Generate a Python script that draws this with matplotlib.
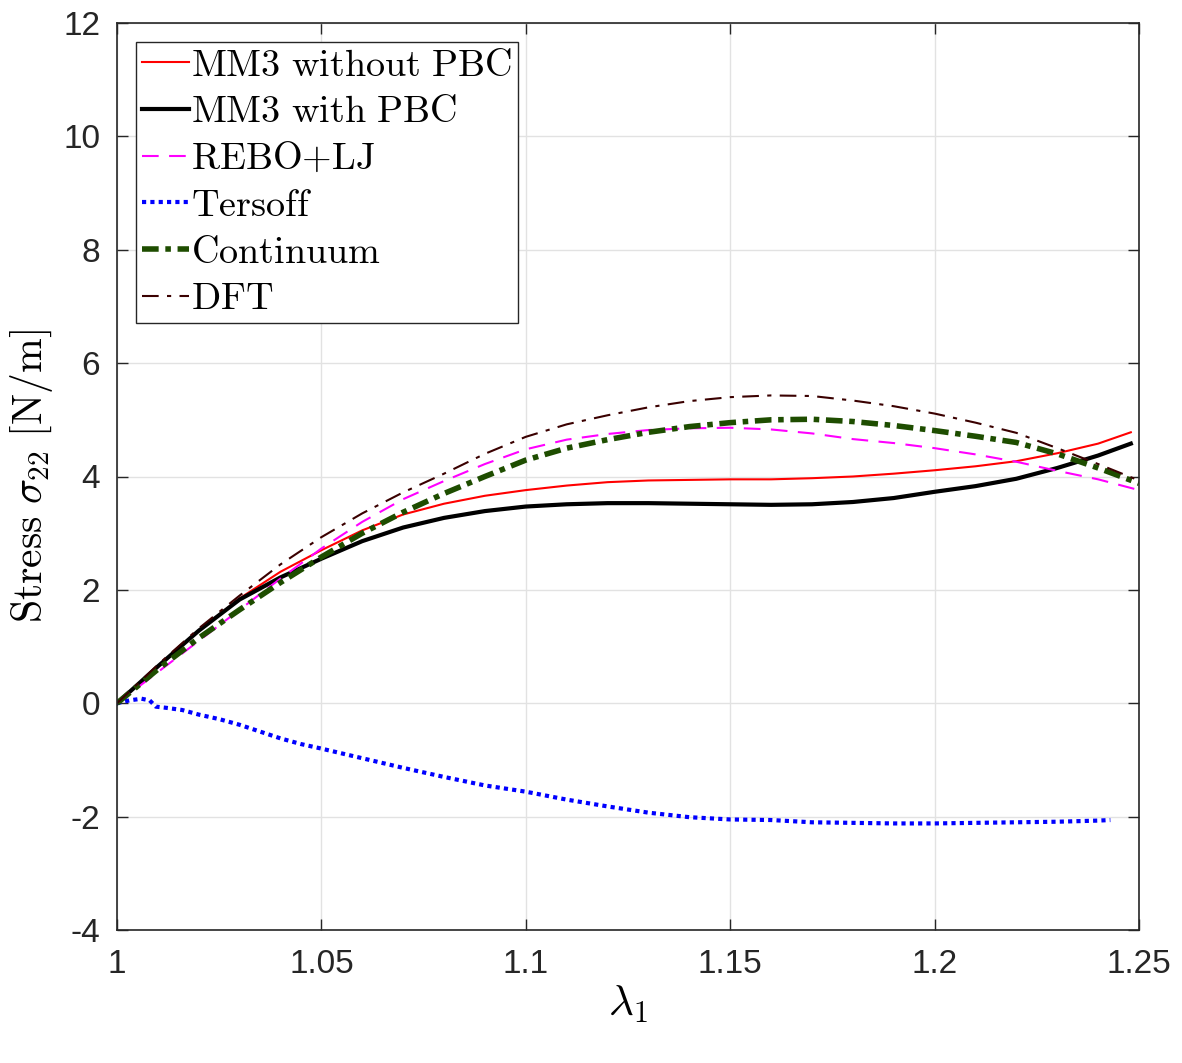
import matplotlib
matplotlib.use("Agg")
import matplotlib.pyplot as plt

plt.rcParams['mathtext.fontset'] = 'cm'
plt.rcParams['font.family'] = ['Liberation Sans', 'DejaVu Sans']
plt.rcParams['axes.unicode_minus'] = False

lam = [1.0, 1.01, 1.02, 1.03, 1.04, 1.05, 1.06, 1.07, 1.08, 1.09, 1.10,
       1.11, 1.12, 1.13, 1.14, 1.15, 1.16, 1.17, 1.18, 1.19, 1.20,
       1.21, 1.22, 1.23, 1.24, 1.25]

lam_mm3 = lam[:-1] + [1.248]
mm3_nopbc = [0, 0.65, 1.28, 1.85, 2.32, 2.70, 3.05, 3.33, 3.52, 3.66, 3.76,
             3.84, 3.90, 3.93, 3.94, 3.95, 3.95, 3.97, 4.00, 4.05, 4.11,
             4.18, 4.27, 4.41, 4.58, 4.78]
mm3_pbc = [0, 0.65, 1.28, 1.83, 2.22, 2.55, 2.86, 3.10, 3.27, 3.39, 3.47,
           3.51, 3.53, 3.53, 3.52, 3.51, 3.50, 3.51, 3.55, 3.62, 3.73,
           3.83, 3.96, 4.15, 4.37, 4.58]
rebo_lj = [0, 0.55, 1.10, 1.65, 2.20, 2.73, 3.20, 3.60, 3.92, 4.22, 4.48,
           4.65, 4.75, 4.82, 4.85, 4.86, 4.83, 4.76, 4.66, 4.59, 4.50,
           4.39, 4.26, 4.10, 3.95, 3.76]
continuum = [0, 0.60, 1.15, 1.65, 2.13, 2.58, 3.00, 3.37, 3.70, 4.00, 4.29,
             4.50, 4.65, 4.78, 4.88, 4.95, 5.00, 5.01, 4.97, 4.90, 4.81,
             4.71, 4.60, 4.40, 4.15, 3.88]
dft = [0, 0.68, 1.32, 1.90, 2.45, 2.93, 3.35, 3.72, 4.05, 4.40, 4.70,
       4.92, 5.08, 5.22, 5.33, 5.40, 5.43, 5.42, 5.34, 5.24, 5.11,
       4.95, 4.77, 4.50, 4.22, 3.93]

lam_ters = [1.0, 1.003, 1.006, 1.008, 1.0095, 1.012, 1.016, 1.02, 1.025, 1.03,
            1.035, 1.04, 1.045, 1.05, 1.06, 1.07, 1.08, 1.09, 1.10, 1.11,
            1.12, 1.13, 1.14, 1.15, 1.16, 1.17, 1.18, 1.19, 1.20, 1.21,
            1.22, 1.23, 1.24, 1.243]
tersoff = [0, 0.05, 0.08, 0.05, -0.06, -0.08, -0.12, -0.20, -0.28, -0.38,
           -0.50, -0.62, -0.72, -0.80, -0.97, -1.14, -1.30, -1.45, -1.56, -1.70,
           -1.82, -1.93, -2.01, -2.05, -2.06, -2.10, -2.11, -2.12, -2.12, -2.11,
           -2.10, -2.09, -2.07, -2.06]

xticks = [1, 1.05, 1.1, 1.15, 1.2, 1.25]
xticklabels = ['1', '1.05', '1.1', '1.15', '1.2', '1.25']
yticks = [-4, -2, 0, 2, 4, 6, 8, 10, 12]

fig = plt.figure(figsize=(11.82, 10.63), dpi=100)
ax = fig.add_axes([117/1182, 1-930/1063, (1139-117)/1182, (930-23)/1063])

ax.plot(lam_mm3, mm3_nopbc, color='#ff0000', lw=1.5, label=r'$\mathrm{MM3\ without\ PBC}$')
ax.plot(lam_mm3, mm3_pbc, color='black', lw=3.0, label=r'$\mathrm{MM3\ with\ PBC}$')
ax.plot(lam, rebo_lj, color='#ff00ff', lw=1.5, ls=(0, (8, 5)), label=r'$\mathrm{REBO{+}LJ}$')
ax.plot(lam_ters, tersoff, color='#0000ff', lw=3.0, ls=(0, (1, 1)), label=r'$\mathrm{Tersoff}$')
ax.plot(lam, continuum, color='#1e4d00', lw=4.0, ls=(0, (3, 1.2, 1, 1.2)), label=r'$\mathrm{Continuum}$')
ax.plot(lam, dft, color='#3a0000', lw=1.5, ls=(0, (8, 4, 2, 4)), label=r'$\mathrm{DFT}$')

ax.set_xlim(1, 1.25)
ax.set_ylim(-4, 12)
ax.set_xticks(xticks)
ax.set_xticklabels(xticklabels)
ax.set_yticks(yticks)
ax.grid(True, color='#e2e2e2', lw=1.0)
ax.set_axisbelow(True)
ax.tick_params(direction='in', length=8, width=1.0, top=True, right=True,
               labelsize=24, colors='#262626')
ax.tick_params(axis='x', pad=14)
ax.tick_params(axis='y', pad=12)
for s in ax.spines.values():
    s.set_color('#262626')
    s.set_linewidth(1.2)

ax.set_xlabel(r'$\lambda_1$', fontsize=31, labelpad=2)
ax.set_ylabel(r'$\mathrm{Stress}\ \sigma_{22}\ \mathrm{[N/m]}$', fontsize=30, labelpad=6)

leg = ax.legend(loc='upper left', bbox_to_anchor=(0.0186, 0.979), borderaxespad=0,
                fontsize=27.5, handlelength=1.25, handletextpad=0.05, labelspacing=0.28,
                borderpad=0.15, fancybox=False, framealpha=1, edgecolor='#262626')
leg.get_frame().set_linewidth(1.0)

fig.savefig('out.png', dpi=100)
